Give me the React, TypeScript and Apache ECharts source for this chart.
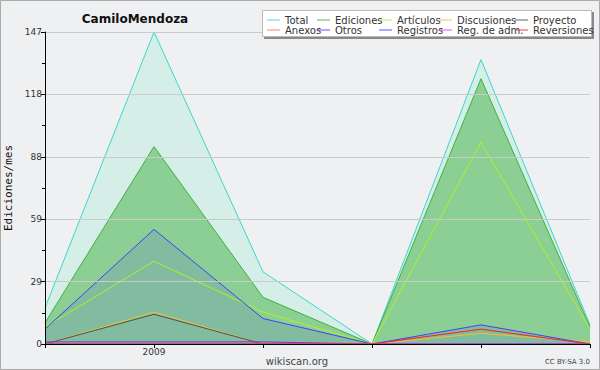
import React, { useEffect, useRef } from "react";
import * as echarts from "echarts";

const periods = ["p1", "p2", "p3", "p4", "p5", "p6"];
const tickLabels = ["", "2009", "", "", "", ""];
const yTickStep = 29.4;
const yMax = 147;

const seriesNames = [
  "Total", "Ediciones", "Artículos", "Discusiones", "Proyecto",
  "Anexos", "Otros", "Registros", "Reg. de adm.", "Reversiones",
];
const seriesColors = [
  "#38d8cc", "#40b040", "#b4f020", "#f0c030", "#505050",
  "#f08050", "#7a30e0", "#4040ff", "#d040e0", "#e03030",
];
const total = [17, 147, 34, 0, 134, 9];
const ediciones = [10, 93, 22, 0, 125, 8];
const articulos = [8, 39, 15, 0, 95, 7];
const discusiones = [0, 15, 0, 0, 5, 1];
const proyecto = [0, 14, 0, 0, 0, 0];
const anexos = [0, 0, 0, 0, 7, 0];
const otros = [1, 1, 1, 0, 0, 0];
const registros = [7, 54, 12, 0, 9, 0];
const regAdm = [0, 0, 0, 0, 0, 0];
const reversiones = [0, 0, 0, 0, 7, 0];
const seriesValues = [
  total, ediciones, articulos, discusiones, proyecto,
  anexos, otros, registros, regAdm, reversiones,
];
const areaFill: Record<string, [string, number]> = {
  Total: ["#40e0b0", 0.14],
  Ediciones: ["#40b040", 0.5],
  Registros: ["#4040ff", 0.13],
};

const FONT = "DejaVu Sans";

export default function App() {
  const ref = useRef<HTMLDivElement>(null);
  useEffect(() => {
    if (!ref.current) return;
    const chart = echarts.init(ref.current, null, { renderer: "svg" });
    const legendTextX = [285, 335, 397, 457, 533];
    const legends = seriesNames.map((name, i) => ({
      data: [name],
      left: legendTextX[i % 5] - 5 - 13,
      top: i < 5 ? 15 : 25,
      padding: 0,
      itemGap: 0,
      itemWidth: 13,
      itemHeight: 1.5,
      icon: "rect",
      z: 10,
      itemStyle: { opacity: 0.6 },
      textStyle: { fontSize: 10, fontFamily: FONT, color: "#333" },
    }));
    const series = seriesNames.map((name, i) => ({
      name,
      type: "line",
      data: seriesValues[i],
      symbol: "none",
      color: seriesColors[i],
      lineStyle: { width: 1, color: seriesColors[i] },
      itemStyle: { color: seriesColors[i] },
      areaStyle: areaFill[name] ? { color: areaFill[name][0], opacity: areaFill[name][1] } : undefined,
      z: 2,
    }));
    chart.setOption({
      animation: false,
      backgroundColor: "#eff0f2",
      title: {
        text: "CamiloMendoza",
        left: 130,
        top: 8,
        textAlign: "center",
        textStyle: { fontSize: 12, fontWeight: "bold", fontFamily: FONT, color: "#111" },
      },
      legend: legends,
      grid: { left: 45, right: 10, top: 32, bottom: 26, containLabel: false, outerBoundsMode: "none" },
      xAxis: {
        type: "category",
        data: periods,
        boundaryGap: false,
        z: 5,
        axisLine: { lineStyle: { color: "#000", width: 1 } },
        axisTick: { show: true, interval: 0, length: 4, lineStyle: { color: "#000" } },
        axisLabel: {
          interval: 0,
          formatter: (_v: string, i: number) => tickLabels[i],
          fontSize: 9,
          fontFamily: FONT,
          color: "#333",
          margin: 3,
        },
        splitLine: { show: false },
      },
      yAxis: {
        type: "value",
        min: 0,
        max: yMax,
        interval: yTickStep,
        name: "Ediciones/mes",
        nameLocation: "middle",
        nameGap: 25,
        nameRotate: 90,
        nameTextStyle: { fontSize: 11, fontFamily: "DejaVu Sans Mono", color: "#111" },
        z: 5,
        axisLine: { show: true, lineStyle: { color: "#000", width: 1 } },
        axisTick: { show: true, length: 4, lineStyle: { color: "#000" } },
        minorTick: { show: true, splitNumber: 2, length: 3, lineStyle: { color: "#000" } },
        axisLabel: {
          formatter: (v: number) => String(Math.round(v)),
          fontSize: 9,
          fontFamily: FONT,
          color: "#333",
          margin: 3,
        },
        splitLine: { show: true, lineStyle: { color: "#cacaca", width: 1 } },
      },
      graphic: [
        {
          type: "rect",
          z: 0,
          silent: true,
          shape: { x: 0.5, y: 0.5, width: 599, height: 369 },
          style: { fill: "none", stroke: "#aaaaaa", lineWidth: 1 },
        },
        {
          type: "rect",
          z: 8,
          silent: true,
          shape: { x: 262.5, y: 10.5, width: 329, height: 26 },
          style: {
            fill: "#ffffff",
            stroke: "#bbbbbb",
            lineWidth: 1,
            shadowColor: "#888888",
            shadowOffsetX: 2,
            shadowOffsetY: 2,
            shadowBlur: 0,
          },
        },
        {
          type: "text",
          z: 8,
          x: 297,
          y: 361,
          style: {
            text: "wikiscan.org",
            fontSize: 10,
            fontFamily: FONT,
            fill: "#444",
            align: "center",
            verticalAlign: "middle",
          },
        },
        {
          type: "text",
          z: 8,
          x: 590,
          y: 362,
          style: {
            text: "CC BY-SA 3.0",
            fontSize: 7,
            fontFamily: FONT,
            fill: "#444",
            align: "right",
            verticalAlign: "middle",
          },
        },
      ],
      series,
    });
    return () => chart.dispose();
  }, []);
  return (
    <div
      ref={ref}
      style={{ position: "absolute", left: 0, top: 0, width: 600, height: 370 }}
    />
  );
}
